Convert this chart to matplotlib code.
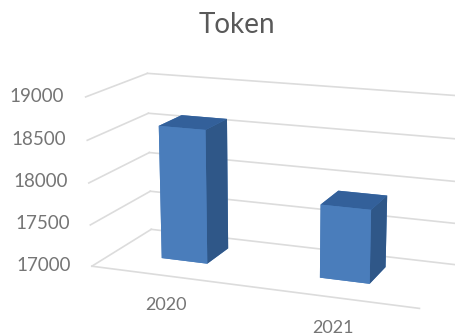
import matplotlib
matplotlib.use('Agg')
import matplotlib.pyplot as plt

plt.rcParams['font.family'] = ['Lato', 'DejaVu Sans']

years = ['2020', '2021']
tokens = [18600, 17860]
z_ticks = [17000, 17500, 18000, 18500, 19000]

z_min = 17000
z_max = 19000
x_len = 2.0
y_len = 1.0
bar_w = 0.30
bar_d = 0.40

front_col = '#4a7dbb'
top_col = '#33609a'
side_col = '#2f5788'
grid_col = '#dcdcdc'
text_col = '#757575'

fig = plt.figure(figsize=(4.56, 3.33), dpi=100)
ax = fig.add_axes([0.09, -0.061, 1, 1], projection='3d')
ax.set_proj_type('persp', focal_length=0.75)
ax.view_init(elev=15, azim=-69)
ax.set_box_aspect((3.25, 1.3, 1.66), zoom=1.19)
ax.set_xlim(0, x_len)
ax.set_ylim(0, y_len)
ax.set_zlim(z_min, z_max)
ax.set_axis_off()

# gridlines on the back wall and the left wall, plus the floor front edge
for z in z_ticks:
    ax.plot([0, x_len], [y_len, y_len], [z, z], color=grid_col, lw=1.2, zorder=0, clip_on=False)
    ax.plot([0, 0], [0, y_len], [z, z], color=grid_col, lw=1.2, zorder=0, clip_on=False)
    ax.text(-0.125, -0.03, z, str(z), color=text_col, fontsize=13.5, ha='right', va='center')
ax.plot([0, x_len], [0, 0], [z_min, z_min], color=grid_col, lw=1.2, zorder=0, clip_on=False)

for i, (year, val) in enumerate(zip(years, tokens)):
    x0 = i * 1.01 + 0.47 - bar_w / 2
    y0 = (y_len - bar_d) / 2 + 0.06
    # bar3d face order: bottom, top, front, back, left, right
    cols = [front_col, top_col, front_col, front_col, front_col, side_col]
    ax.bar3d(x0, y0, z_min, bar_w, bar_d, val - z_min, color=cols, shade=False, linewidth=0)
    ax.text(i * 1.0 + 0.56, -0.2, z_min - 225, year, color=text_col, fontsize=13, ha='center', va='center')

fig.text(0.52, 0.925, 'Token', color='#595959', fontsize=20, ha='center', va='center')

fig.savefig('out.png', dpi=100)
